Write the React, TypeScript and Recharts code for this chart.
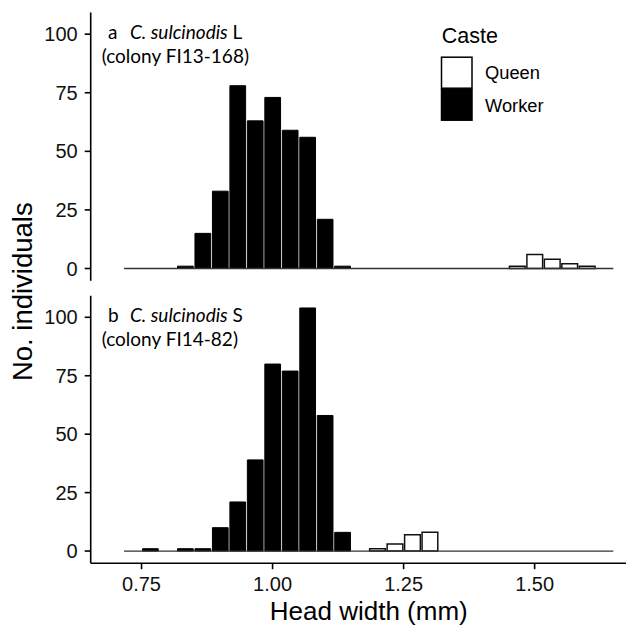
import React from 'react';
import { BarChart, Bar, XAxis, YAxis, ReferenceLine, Legend, Label } from 'recharts';

// Histogram bin centres (mm), bin width 1/30 mm
const binCenters = [
  0.73333, 0.76667, 0.8, 0.83333, 0.86667, 0.9, 0.93333, 0.96667, 1.0, 1.03333,
  1.06667, 1.1, 1.13333, 1.16667, 1.2, 1.23333, 1.26667, 1.3, 1.33333, 1.36667,
  1.4, 1.43333, 1.46667, 1.5, 1.53333, 1.56667, 1.6, 1.63333,
];
const binWidth = 0.033333;

// Panel a: C. sulcinodis L (colony FI13-168)
const topWorker = [0, 0, 0, 1, 15, 33, 78, 63, 73, 59, 56, 21, 1, 0, 0, 0, 0, 0, 0, 0, 0, 0, 0, 0, 0, 0, 0, 0];
const topQueen = [0, 0, 0, 0, 0, 0, 0, 0, 0, 0, 0, 0, 0, 0, 0, 0, 0, 0, 0, 0, 0, 0, 1, 6, 4, 2, 1, 0];

// Panel b: C. sulcinodis S (colony FI14-82)
const bottomWorker = [0, 1, 0, 1, 1, 10, 21, 39, 80, 77, 104, 58, 8, 0, 0, 0, 0, 0, 0, 0, 0, 0, 0, 0, 0, 0, 0, 0];
const bottomQueen = [0, 0, 0, 0, 0, 0, 0, 0, 0, 0, 0, 0, 0, 0, 1, 3, 7, 8, 0, 0, 0, 0, 0, 0, 0, 0, 0, 0];

const xTicks = [0.75, 1.0, 1.25, 1.5];
const yTicks = [0, 25, 50, 75, 100];
const xDomain: [number, number] = [0.653, 1.714];
const yDomain: [number, number] = [-5.2, 109.2];

const panels = [
  { letter: 'a', species: 'C. sulcinodis', form: 'L', colony: '(colony FI13-168)' },
  { letter: 'b', species: 'C. sulcinodis', form: 'S', colony: '(colony FI14-82)' },
];

const makeData = (worker: number[], queen: number[]) =>
  binCenters.map((x, i) => ({ x, Queen: queen[i], Worker: worker[i] }));

const topData = makeData(topWorker, topQueen);
const bottomData = makeData(bottomWorker, bottomQueen);

const SANS = '"Liberation Sans", Arial, Helvetica, sans-serif';
const LABEL_FONT = 'Lato, "Open Sans", sans-serif';

const axisStroke = { stroke: '#000', strokeWidth: 1.6 };
const tickStyle = { fontSize: 20, fill: '#111', fontFamily: SANS };

const CHART_W = 660;
const PLOT_LEFT = 90.7;
const RIGHT_MARGIN = 13.2;

const baselineStart = binCenters[0] - binWidth / 2;
const baselineEnd = binCenters[binCenters.length - 1] + binWidth / 2;

const renderLegend = (props: any) => {
  const payload = (props.payload || []) as any[];
  return (
    <svg width={190} height={120} style={{ display: 'block' }}>
      <text x={11.7} y={33.3} fontSize={21.5} fontFamily={SANS} fill="#000">
        Caste
      </text>
      {payload.map((entry: any, i: number) => (
        <g key={entry.value}>
          <rect
            x={11.5}
            y={47.2 + i * 32}
            width={30.5}
            height={31}
            fill={entry.color}
            stroke="#000"
            strokeWidth={1.5}
          />
          <text x={55} y={69.3 + i * 32.4} fontSize={18.3} fontFamily={SANS} fill="#000">
            {entry.value}
          </text>
        </g>
      ))}
    </svg>
  );
};

export default function App() {
  return (
    <div
      style={{
        position: 'absolute',
        left: 0,
        top: 0,
        width: 626,
        height: 626,
        overflow: 'hidden',
        background: '#fff',
      }}
    >
      <div style={{ position: 'absolute', left: 0, top: 0 }}>
        <BarChart
          width={CHART_W}
          height={290}
          data={topData}
          margin={{ top: 12.6, right: RIGHT_MARGIN, bottom: 9.3, left: 0 }}
          barCategoryGap={0}
          barGap={0}
          barSize="100%"
        >
          <XAxis type="number" dataKey="x" domain={xDomain} allowDataOverflow hide />
          <YAxis
            type="number"
            domain={yDomain}
            ticks={yTicks}
            allowDataOverflow
            interval={0}
            width={PLOT_LEFT}
            tickSize={6}
            tickMargin={7}
            axisLine={axisStroke}
            tickLine={axisStroke}
            tick={tickStyle}
          />
          <ReferenceLine
            segment={[
              { x: baselineStart, y: 0 },
              { x: baselineEnd, y: 0 },
            ]}
            stroke="#333"
            strokeWidth={1.3}
          />
          <Bar dataKey="Queen" name="Queen" stackId="caste" fill="#fff" stroke="#111" strokeWidth={1.5} isAnimationActive={false} />
          <Bar dataKey="Worker" name="Worker" stackId="caste" fill="#000" stroke="#000" strokeWidth={1} isAnimationActive={false} />
          <Legend
            layout="vertical"
            align="center"
            verticalAlign="middle"
            wrapperStyle={{ left: 430, top: 10, width: 190, height: 120 }}
            content={renderLegend}
          />
        </BarChart>
      </div>
      <div style={{ position: 'absolute', left: 0, top: 290 }}>
        <BarChart
          width={CHART_W}
          height={336}
          data={bottomData}
          margin={{ top: 5.8, right: RIGHT_MARGIN, bottom: 0, left: 0 }}
          barCategoryGap={0}
          barGap={0}
          barSize="100%"
        >
          <XAxis
            type="number"
            dataKey="x"
            domain={xDomain}
            allowDataOverflow
            ticks={xTicks}
            interval={0}
            tickFormatter={(v: number) => v.toFixed(2)}
            height={62.8}
            tickSize={6}
            tickMargin={8}
            axisLine={axisStroke}
            tickLine={axisStroke}
            tick={tickStyle}
          >
            <Label
              value="Head width (mm)"
              position="insideBottom"
              offset={6}
              style={{ fontSize: 26, fontFamily: SANS, fill: '#000' }}
            />
          </XAxis>
          <YAxis
            type="number"
            domain={yDomain}
            ticks={yTicks}
            allowDataOverflow
            interval={0}
            width={PLOT_LEFT}
            tickSize={6}
            tickMargin={7}
            axisLine={axisStroke}
            tickLine={axisStroke}
            tick={tickStyle}
          />
          <ReferenceLine
            segment={[
              { x: baselineStart, y: 0 },
              { x: baselineEnd, y: 0 },
            ]}
            stroke="#333"
            strokeWidth={1.3}
          />
          <Bar dataKey="Queen" name="Queen" stackId="caste" fill="#fff" stroke="#111" strokeWidth={1.5} isAnimationActive={false} />
          <Bar dataKey="Worker" name="Worker" stackId="caste" fill="#000" stroke="#000" strokeWidth={1} isAnimationActive={false} />
        </BarChart>
      </div>
      <svg
        width={626}
        height={626}
        style={{ position: 'absolute', left: 0, top: 0, pointerEvents: 'none' }}
      >
        <text
          x={31.7}
          y={291.7}
          transform="rotate(-90 31.7 291.7)"
          textAnchor="middle"
          fontSize={27.5}
          fontFamily={SANS}
          fill="#000"
        >
          No. individuals
        </text>
        {panels.map((p, i) => {
          const top = i === 0 ? 12.6 : 295.8;
          return (
            <g key={p.letter} fontFamily={LABEL_FONT} fontSize={19} fill="#000">
              <text x={108} y={top + 25.9}>
                {p.letter}
                <tspan x={130} fontStyle="italic">{p.species}</tspan>
                <tspan>{' ' + p.form}</tspan>
              </text>
              <text x={101.7} y={top + 49.9}>
                {p.colony}
              </text>
            </g>
          );
        })}
      </svg>
    </div>
  );
}
